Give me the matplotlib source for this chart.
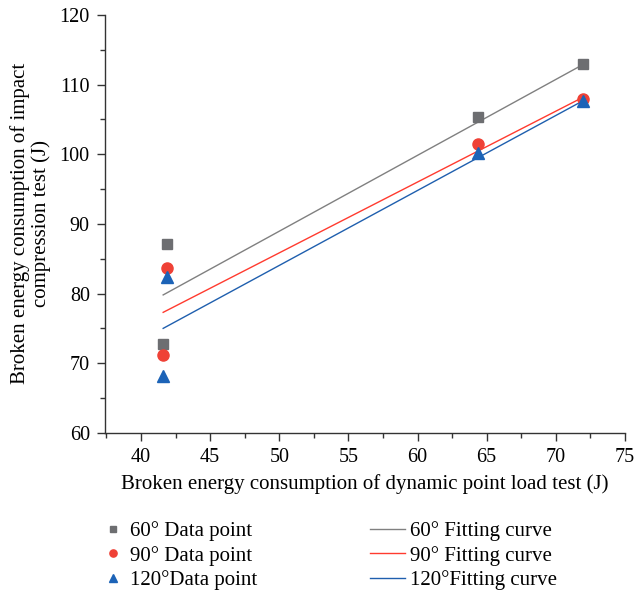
import numpy as np
import matplotlib.pyplot as plt
from matplotlib.ticker import MultipleLocator

plt.rcParams["font.family"] = ["Liberation Serif", "DejaVu Serif"]

# data
x_pts = [41.85, 41.6, 64.35, 72.0]
y_60 = [87.1, 72.8, 105.3, 112.9]
y_90 = [83.6, 71.2, 101.4, 107.95]
y_120 = [82.4, 68.2, 100.15, 107.7]

# fitting line end points
x_fit = [41.6, 72.0]
fit_60 = [79.8, 112.9]
fit_90 = [77.3, 108.2]
fit_120 = [75.0, 107.7]

point_labels = ["60° Data point", "90° Data point", "120°Data point"]
fit_labels = ["60° Fitting curve", "90° Fitting curve", "120°Fitting curve"]

c_gray = "#6d6e71"
c_red = "#ef4136"
c_blue = "#1c63b7"

fig = plt.figure(figsize=(6.37, 5.93), dpi=100)
ax = fig.add_axes([0.165, 0.270, 0.816, 0.705])

l1, = ax.plot(x_fit, fit_60, color="#808080", lw=1.0)
l2, = ax.plot(x_fit, fit_90, color="#ff3b2f", lw=1.0)
l3, = ax.plot(x_fit, fit_120, color="#1f5fae", lw=1.0)

p1, = ax.plot(x_pts, y_60, "s", color=c_gray, ms=7, ls="none")
p2, = ax.plot(x_pts, y_90, "o", color=c_red, ms=8, ls="none")
p3, = ax.plot(x_pts, y_120, "^", color=c_blue, ms=9, ls="none")

ax.set_xlim(37.4, 75)
ax.set_ylim(60, 120)
ax.xaxis.set_major_locator(MultipleLocator(5))
ax.xaxis.set_minor_locator(MultipleLocator(2.5))
ax.yaxis.set_major_locator(MultipleLocator(10))
ax.yaxis.set_minor_locator(MultipleLocator(5))
ax.spines["top"].set_visible(False)
ax.spines["right"].set_visible(False)
for s in ["left", "bottom"]:
    ax.spines[s].set_color("#333333")
    ax.spines[s].set_linewidth(1.0)
ax.tick_params(which="major", length=6, width=1.0, color="#333333", labelsize=14.5, pad=5)
ax.tick_params(which="minor", length=3.5, width=1.0, color="#333333")

ax.set_xlabel("Broken energy consumption of dynamic point load test (J)", fontsize=15, labelpad=5)
ax.set_ylabel("Broken energy consumption of impact\ncompression test (J)", fontsize=15, labelpad=6,
              linespacing=1.1)

# two legend columns below the axes
fig.legend([p1, p2, p3], point_labels, loc="upper left", bbox_to_anchor=(0.165, 0.121),
           frameon=False, fontsize=15, markerscale=0.65, handlelength=0.8, handletextpad=0.4,
           labelspacing=0.22, borderaxespad=0, borderpad=0)
fig.legend([l1, l2, l3], fit_labels, loc="upper left", bbox_to_anchor=(0.581, 0.121),
           frameon=False, fontsize=15, handlelength=1.68, handletextpad=0.25,
           labelspacing=0.22, borderaxespad=0, borderpad=0)

fig.savefig("out.png", dpi=100)
